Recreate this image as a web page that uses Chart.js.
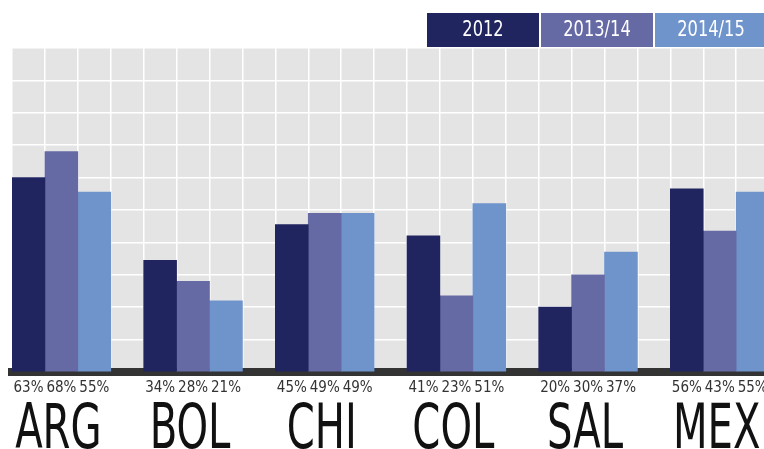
<!DOCTYPE html>
<html>
<head>
<meta charset="utf-8">
<script src="https://cdn.jsdelivr.net/npm/chart.js@4/dist/chart.umd.min.js"></script>
<style>
  html, body { margin: 0; padding: 0; background: #fff; overflow: hidden; }
  #wrap { width: 802px; height: 449px; }
</style>
</head>
<body>
<div id="wrap"><canvas id="chart" width="802" height="449"></canvas></div>
<script>
const countries = ["ARG", "BOL", "CHI", "COL", "SAL", "MEX"]
const seriesNames = ["2012", "2013/14", "2014/15"]
// bar heights as drawn (0-100 scale, one grid row = 10)
const values2012 = [60, 34.5, 45.5, 42, 20, 56.5]
const values2013 = [68, 28, 49, 23.5, 30, 43.5]
const values2014 = [55.5, 22, 49, 52, 37, 55.5]
// printed labels under the bars
const labels2012 = ["63%", "34%", "45%", "41%", "20%", "56%"]
const labels2013 = ["68%", "28%", "49%", "23%", "30%", "43%"]
const labels2014 = ["55%", "21%", "49%", "51%", "37%", "55%"]
const colors = ["#21255f", "#666aa4", "#6f94cc"]

const FONT = "'DejaVu Sans Condensed', 'Liberation Sans Narrow', sans-serif"
const allValues = [values2012, values2013, values2014]
const allLabels = [labels2012, labels2013, labels2014]

// 4 slots per country: three bars and a gap
const slots = []
const slotText = []
countries.forEach((c, g) => {
  for (let k = 0; k < 4; k++) {
    slots.push(c + " " + k)
    slotText.push(k < 3 ? allLabels[k][g] : "")
  }
})

const datasets = seriesNames.map((name, s) => ({
  label: name,
  data: slots.map((_, i) => (i % 4 === s ? allValues[s][Math.floor(i / 4)] : null)),
  backgroundColor: colors[s],
  borderWidth: 0,
  barPercentage: 1,
  categoryPercentage: 1,
  grouped: false,
}))

const plotBackground = {
  id: "plotBackground",
  beforeDraw(chart) {
    const { ctx, chartArea: a } = chart
    ctx.save()
    ctx.fillStyle = "#e4e4e4"
    ctx.fillRect(a.left, a.top, a.right - a.left, a.bottom - a.top)
    ctx.restore()
  },
}

const countryLabels = {
  id: "countryLabels",
  afterDraw(chart) {
    const { ctx } = chart
    const x = chart.scales.x
    ctx.save()
    ctx.fillStyle = "#111"
    ctx.font = "62px " + FONT
    ctx.textAlign = "center"
    ctx.textBaseline = "alphabetic"
    countries.forEach((c, g) => {
      const cx = x.getPixelForValue(g * 4 + 1) - 3
      ctx.save()
      ctx.translate(cx, 448)
      ctx.scale(0.72, 1)
      ctx.fillText(c, 0, 0)
      ctx.restore()
    })
    ctx.restore()
  },
}

const legendBoxes = {
  id: "legendBoxes",
  afterDraw(chart) {
    const { ctx } = chart
    const w = 112, h = 34, gap = 2, top = 13, right = 767
    ctx.save()
    ctx.font = "21px " + FONT
    ctx.textAlign = "center"
    ctx.textBaseline = "middle"
    chart.data.datasets.forEach((ds, i) => {
      const n = chart.data.datasets.length
      const left = right - (n - i) * w - (n - 1 - i) * gap
      ctx.fillStyle = ds.backgroundColor
      ctx.fillRect(left, top, w, h)
      ctx.fillStyle = "#fff"
      ctx.save()
      ctx.translate(left + w / 2, top + h / 2 + 1)
      ctx.scale(0.86, 1)
      ctx.fillText(ds.label, 0, 0)
      ctx.restore()
    })
    ctx.restore()
  },
}

new Chart(document.getElementById("chart").getContext("2d"), {
  type: "bar",
  data: { labels: slots, datasets: datasets },
  options: {
    responsive: false,
    animation: false,
    layout: { padding: { top: 48, left: 12, right: 0, bottom: 0 } },
    plugins: { legend: { display: false }, tooltip: { enabled: false } },
    scales: {
      x: {
        offset: true,
        z: 1,
        grid: { color: "#fff", lineWidth: 1.5, offset: true, drawTicks: false },
        border: { color: "#333", width: 8 },
        ticks: {
          autoSkip: false,
          maxRotation: 0,
          padding: 7,
          color: "#333",
          font: { family: FONT, size: 15 },
          callback: (v, i) => slotText[i],
        },
        afterFit(scale) { scale.height = 77 },
      },
      y: {
        min: 0,
        max: 100,
        z: 1,
        ticks: { display: false, stepSize: 10 },
        grid: {
          color: (c) => (c.tick && c.tick.value === 0 ? "rgba(0,0,0,0)" : "#fff"),
          lineWidth: 1.5,
          drawTicks: false,
        },
        border: { display: false },
        afterFit(scale) { scale.width = 0 },
      },
    },
  },
  plugins: [plotBackground, countryLabels, legendBoxes],
})
</script>
</body>
</html>
